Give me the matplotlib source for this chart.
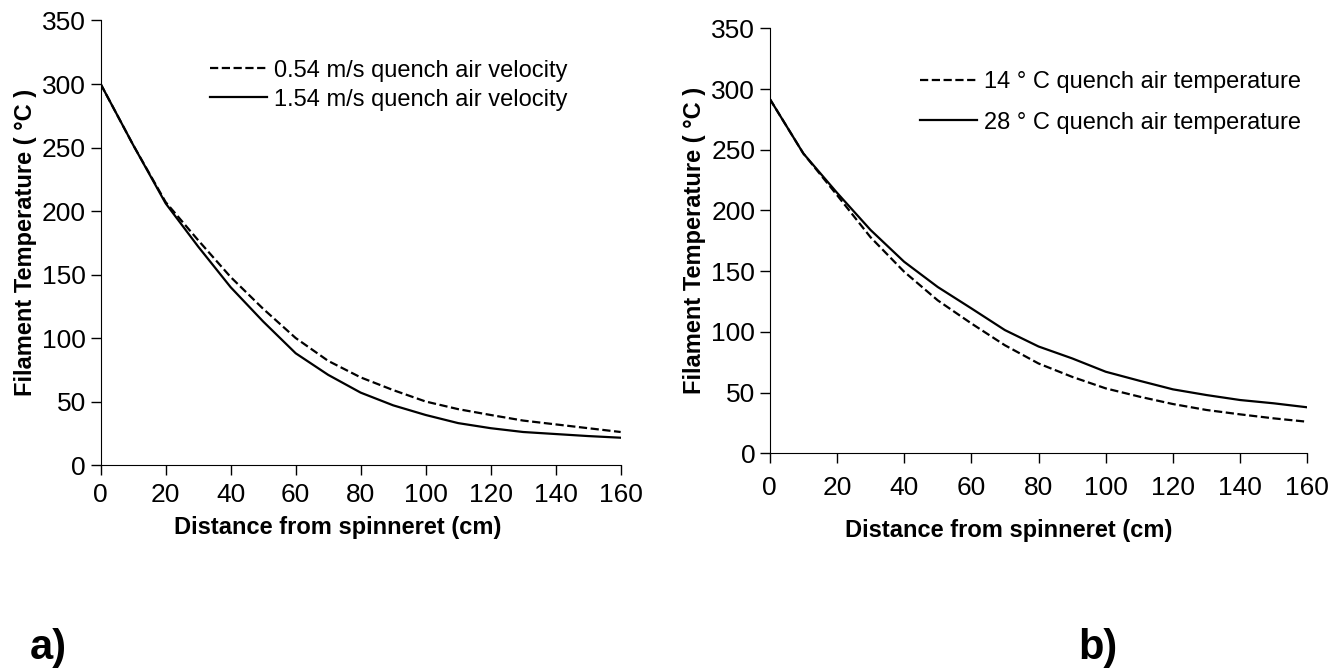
import numpy as np
import matplotlib.pyplot as plt

plt.rcParams["font.family"] = ["Liberation Sans", "DejaVu Sans"]

# distance from spinneret (cm)
dist = [0, 10, 20, 30, 40, 50, 60, 70, 80, 90, 100, 110, 120, 130, 140, 150, 160]

# a) quench air velocity
temp_054 = [300, 252, 207, 177, 148, 123, 100, 82, 69, 59, 50, 44, 39.4, 35, 32, 29, 26]
temp_154 = [300, 252, 206, 172, 140, 113, 88, 71, 57, 47, 39.4, 33, 29, 26, 24.4, 22.8, 21.5]

# b) quench air temperature
temp_14c = [292, 247, 212.8, 178, 149.6, 126, 107, 89, 74, 63, 53.5, 46.7, 40.6, 35.7, 32.1, 28.8, 26]
temp_28c = [292, 247, 214.7, 184, 157.8, 137, 119.4, 101.5, 88, 78.2, 67.2, 59.8, 52.7, 48, 43.9, 41.2, 37.9]

xticks = np.arange(0, 161, 20)
yticks = np.arange(0, 351, 50)

fig = plt.figure(figsize=(13.44, 6.72), dpi=100)
ax1 = fig.add_axes([0.0749, 0.308, 0.3869, 0.6615])
ax2 = fig.add_axes([0.5727, 0.3254, 0.4, 0.6324])


def style(ax, tickpad, xlab_pos):
    for s in ["top", "right"]:
        ax.spines[s].set_visible(False)
    ax.set_xlim(0, 160)
    ax.set_ylim(0, 350)
    ax.set_xticks(xticks)
    ax.set_yticks(yticks)
    ax.tick_params(direction="out", length=7, labelsize=19, width=1)
    ax.tick_params(axis="x", pad=tickpad)
    ax.set_xlabel("Distance from spinneret (cm)", fontsize=17, fontweight="bold")
    ax.xaxis.set_label_coords(*xlab_pos)
    ax.set_ylabel("Filament Temperature ( °C )", fontsize=17, fontweight="bold",
                  labelpad=4)


ax1.plot(dist, temp_054, "k--", lw=1.6, label="0.54 m/s quench air velocity")
ax1.plot(dist, temp_154, "k-", lw=1.6, label="1.54 m/s quench air velocity")
style(ax1, 6, (0.456, -0.115))
ax1.legend(loc="upper left", bbox_to_anchor=(0.17, 0.96), frameon=False,
           fontsize=17, handlelength=2.4, handletextpad=0.3, labelspacing=0.3)

ax2.plot(dist, temp_14c, "k--", lw=1.6, label="14 ° C quench air temperature")
ax2.plot(dist, temp_28c, "k-", lw=1.6, label="28 ° C quench air temperature")
style(ax2, 9, (0.445, -0.155))
ax2.legend(loc="upper left", bbox_to_anchor=(0.24, 0.95), frameon=False,
           fontsize=17, handlelength=2.4, handletextpad=0.3, labelspacing=0.8)

fig.text(0.022, 0.02, "a)", fontsize=30, fontweight="bold")
fig.text(0.802, 0.02, "b)", fontsize=30, fontweight="bold")

fig.savefig("out.png", dpi=100)
